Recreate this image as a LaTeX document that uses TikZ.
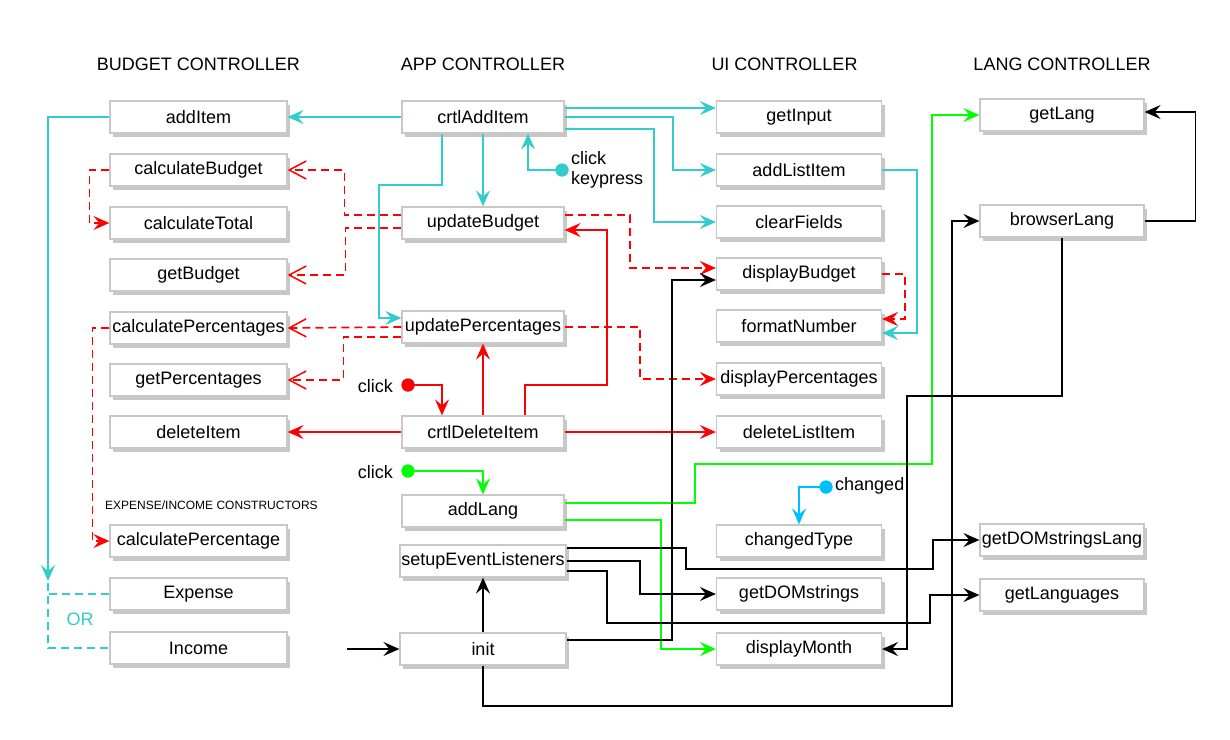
\documentclass[tikz,border=0pt]{standalone}
\usepackage{fontspec}
\setmainfont{Liberation Sans}
\usetikzlibrary{arrows.meta,shadows}
\definecolor{cyanl}{RGB}{51,204,204}
\definecolor{redl}{RGB}{255,0,0}
\definecolor{greenl}{RGB}{0,255,0}
\definecolor{bluel}{RGB}{0,191,255}
\definecolor{boxgray}{RGB}{200,200,200}
\begin{document}
\begin{tikzpicture}[x=1pt,y=-1pt,
  font=\fontsize{18}{21}\selectfont,
  box/.style={draw=boxgray, line width=1.2pt, fill=white, minimum height=32pt, inner sep=0pt,
    drop shadow={shadow xshift=3pt,shadow yshift=-3.5pt,opacity=0.22,fill=black}},
  wa/.style={box,minimum width=177pt},
  wb/.style={box,minimum width=162pt},
  wbb/.style={box,minimum width=166pt},
  wc/.style={box,minimum width=165pt},
  wd/.style={box,minimum width=164pt},
  title/.style={inner sep=0pt},
  conn/.style={line width=1.7pt},
  fa/.style={-{Stealth[length=16pt,width=14pt,inset=6pt]}},
  oa/.style={-{Straight Barb[length=17pt,width=18pt,line width=1.5pt]}},
  cy/.style={conn,cyanl,fa},
  rs/.style={conn,redl,fa},
  rd/.style={conn,redl,dash pattern=on 8pt off 5pt},
  gr/.style={conn,greenl,fa},
  bk/.style={conn,black,fa},
  bl/.style={conn,bluel,fa},
  dotn/.style={circle,inner sep=0pt,minimum size=13pt,draw=none},
  lbl/.style={inner sep=0pt,anchor=west}
]
\useasboundingbox (0,0) rectangle (1230,739);
\fill[white] (0,0) rectangle (1230,739);

% titles
\node[title] (tB) at (198.5,64) {BUDGET CONTROLLER};
\node[title] (tA) at (483,64) {APP CONTROLLER};
\node[title] (tU) at (784.5,64) {UI CONTROLLER};
\node[title] (tL) at (1062,64) {LANG CONTROLLER};

% column 1
\node[wa] (addItem) at (198.5,117) {addItem};
\node[wa] (calculateBudget) at (198.5,170) {calculateBudget};
\node[wa] (calculateTotal) at (198.5,223) {calculateTotal};
\node[wa] (getBudget) at (198.5,275) {getBudget};
\node[wa] (calculatePercentages) at (198.5,328) {calculatePercentages};
\node[wa] (getPercentages) at (198.5,380) {getPercentages};
\node[wa] (deleteItem) at (198.5,432) {deleteItem};
\node[title,anchor=west,font=\fontsize{12}{14}\selectfont] (constr) at (105,505) {EXPENSE/INCOME CONSTRUCTORS};
\node[wa] (calculatePercentage) at (198.5,541) {calculatePercentage};
\node[wa] (Expense) at (198.5,594) {Expense};
\node[wa] (Income) at (198.5,648) {Income};
\node[title,text=cyanl] (orl) at (80,619) {OR};

% column 2
\node[wb] (crtlAddItem) at (483,117) {crtlAddItem};
\node[wb] (updateBudget) at (483,223) {updateBudget};
\node[wb] (updatePercentages) at (483,327) {updatePercentages};
\node[wb] (crtlDeleteItem) at (483,432) {crtlDeleteItem};
\node[wb] (addLang) at (483,511) {addLang};
\node[wbb] (setupEventListeners) at (483,561) {setupEventListeners};
\node[wbb] (init) at (483,649) {init};

% column 3
\node[wc] (getInput) at (799,117) {getInput};
\node[wc] (addListItem) at (799,170) {addListItem};
\node[wc] (clearFields) at (799,222) {clearFields};
\node[wc] (displayBudget) at (799,274) {displayBudget};
\node[wc] (formatNumber) at (799,326) {formatNumber};
\node[wc] (displayPercentages) at (799,379) {displayPercentages};
\node[wc] (deleteListItem) at (799,432) {deleteListItem};
\node[wc] (changedType) at (799,541) {changedType};
\node[wc] (getDOMstrings) at (799,594) {getDOMstrings};
\node[wc] (displayMonth) at (799,649) {displayMonth};

% column 4
\node[wd] (getLang) at (1062,115) {getLang};
\node[wd] (browserLang) at (1062,221) {browserLang};
\node[wd] (getDOMstringsLang) at (1062,540) {getDOMstringsLang};
\node[wd] (getLanguages) at (1062,595) {getLanguages};

% event dots and labels
\node[dotn,fill=cyanl] (cdot) at (562,170) {};
\node[lbl] (clk1) at (571,158) {click};
\node[lbl] (kp) at (571,180) {keypress};
\node[dotn,fill=redl] (rdot) at (408,385) {};
\node[lbl,anchor=east] (clk2) at (393,386) {click};
\node[dotn,fill=greenl] (gdot) at (408,471) {};
\node[lbl,anchor=east] (clk3) at (393,472) {click};
\node[dotn,fill=bluel] (bdot) at (826,487) {};
\node[lbl] (chg) at (835,486) {changed};

\coordinate (orjoin) at (48,581);
\coordinate (entry) at (347,649);

% ---------- cyan ----------
\draw[cy] (crtlAddItem.west) -- (addItem.east);
\draw[cy] ([yshift=9pt]crtlAddItem.east) -- ([yshift=9pt]getInput.west);
\draw[cy] (crtlAddItem.east) -| ([xshift=-43pt]addListItem.west) -- (addListItem.west);
\draw[cy] ([yshift=-12pt]crtlAddItem.east) -| ([xshift=-62pt]clearFields.west) -- (clearFields.west);
\draw[cy] ([xshift=-41pt]crtlAddItem.south) -- (442,185) -- (379,185) -- (379,318) -- ([yshift=9pt]updatePercentages.west);
\draw[cy] (crtlAddItem.south) -- (updateBudget.north);
\draw[cy] (cdot.center) -| ([xshift=45pt]crtlAddItem.south);
\draw[cy] (addListItem.east) -| ([xshift=35pt,yshift=-7pt]formatNumber.east) -- ([yshift=-7pt]formatNumber.east);
\draw[cy] (addItem.west) -| (orjoin);
\draw[conn,cyanl,dash pattern=on 8pt off 5pt] ([yshift=-2pt]orjoin) |- (Income.west);
\draw[conn,cyanl,dash pattern=on 8pt off 5pt] (Expense.west) -- (Expense.west -| orjoin);

% ---------- red dashed ----------
\draw[rd,oa] ([yshift=8pt]updateBudget.west) -| ([xshift=57pt]calculateBudget.east) -- (calculateBudget.east);
\draw[rd,oa] ([yshift=-5pt]updateBudget.west) -| ([xshift=58pt]getBudget.east) -- (getBudget.east);
\draw[rd,fa] (calculateBudget.west) -| ([xshift=-20pt]calculateTotal.west) -- (calculateTotal.west);
\draw[rd,fa] ([yshift=8pt]updateBudget.east) -| ([xshift=-86pt,yshift=6pt]displayBudget.west) -- ([yshift=6pt]displayBudget.west);
\draw[rd,fa] (displayBudget.east) -| ([xshift=23pt,yshift=7pt]formatNumber.east) -- ([yshift=7pt]formatNumber.east);
\draw[rd,oa] (updatePercentages.west) -- (calculatePercentages.east);
\draw[rd,oa] ([yshift=-10pt]updatePercentages.west) -| ([xshift=56pt]getPercentages.east) -- (getPercentages.east);
\draw[rd,fa] (calculatePercentages.west) -| ([xshift=-17pt]calculatePercentage.west) -- (calculatePercentage.west);
\draw[rd,fa] (updatePercentages.east) -| ([xshift=-76pt]displayPercentages.west) -- (displayPercentages.west);

% ---------- red solid ----------
\draw[rs] (rdot.center) -| ([xshift=-41pt]crtlDeleteItem.north);
\draw[rs] (crtlDeleteItem.north) -- (updatePercentages.south);
\draw[rs] ([xshift=42pt]crtlDeleteItem.north) -- (525,385) -- (607,385) |- ([yshift=-7pt]updateBudget.east);
\draw[rs] (crtlDeleteItem.west) -- (deleteItem.east);
\draw[rs] (crtlDeleteItem.east) -- (deleteListItem.west);

% ---------- green ----------
\draw[gr] (gdot.center) -| (addLang.north);
\draw[gr] ([yshift=8pt]addLang.east) -- (695,503) -- (695,464) -- (932,464) |- (getLang.west);
\draw[gr] ([yshift=-9pt]addLang.east) -| ([xshift=-55pt]displayMonth.west) -- (displayMonth.west);

% ---------- black ----------
\draw[bk] (entry) -- (init.west);
\draw[bk] (init.north) -- (setupEventListeners.south);
\draw[bk] ([yshift=9pt]init.east) -| ([xshift=-44pt,yshift=-6pt]displayBudget.west) -- ([yshift=-6pt]displayBudget.west);
\draw[bk] (init.south) |- (952,706) |- (browserLang.west);
\draw[bk] (browserLang.east) -| ([xshift=51pt,yshift=3pt]getLang.east) -- ([yshift=3pt]getLang.east);
\draw[bk] (browserLang.south) |- (907,396) |- (displayMonth.east);
\draw[bk] ([yshift=13pt]setupEventListeners.east) -- (686,548) |- (933,569) |- (getDOMstringsLang.west);
\draw[bk] (setupEventListeners.east) -| ([xshift=-76pt]getDOMstrings.west) -- (getDOMstrings.west);
\draw[bk] ([yshift=-10pt]setupEventListeners.east) -- (607,571) |- (930,623) |- (getLanguages.west);

% ---------- light blue ----------
\draw[bl] (bdot.center) -| (changedType.north);

% dots on top
\fill[cyanl] (cdot) circle[radius=6.5pt];
\fill[redl] (rdot) circle[radius=6.5pt];
\fill[greenl] (gdot) circle[radius=6.5pt];
\fill[bluel] (bdot) circle[radius=6.5pt];
\end{tikzpicture}
\end{document}
